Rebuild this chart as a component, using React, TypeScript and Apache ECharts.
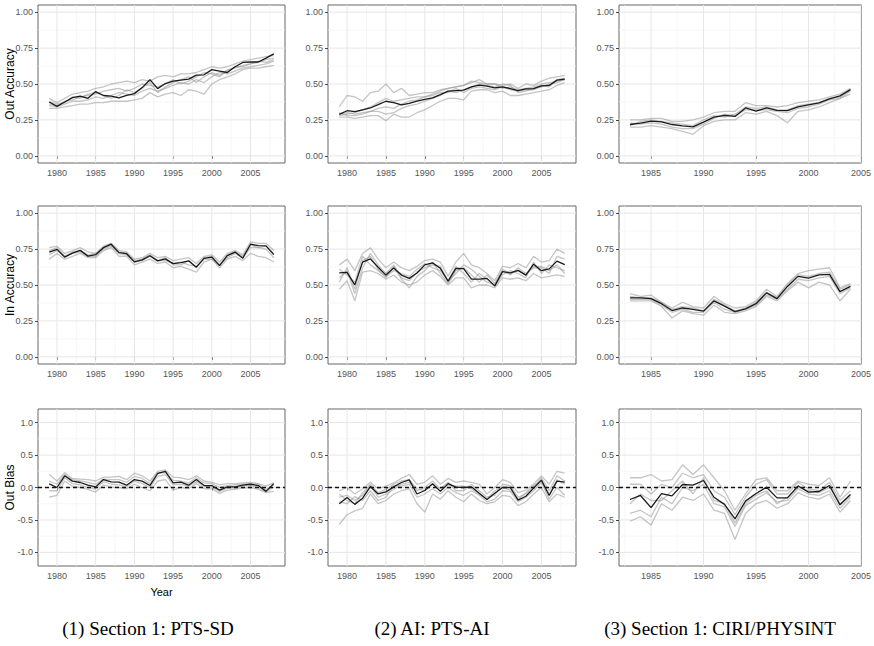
import React, { useEffect, useRef } from "react";
import * as echarts from "echarts";

// ---------- years ----------
const YEARS_A = [1979, 1980, 1981, 1982, 1983, 1984, 1985, 1986, 1987, 1988, 1989, 1990, 1991, 1992, 1993, 1994, 1995, 1996, 1997, 1998, 1999, 2000, 2001, 2002, 2003, 2004, 2005, 2006, 2007, 2008];
const YEARS_C = [1983, 1984, 1985, 1986, 1987, 1988, 1989, 1990, 1991, 1992, 1993, 1994, 1995, 1996, 1997, 1998, 1999, 2000, 2001, 2002, 2003, 2004];

// ---------- tick labels ----------
const X_TICKS_A = [1980, 1985, 1990, 1995, 2000, 2005];
const X_MINOR_A = [1982.5, 1987.5, 1992.5, 1997.5, 2002.5, 2007.5];
const X_TICKS_C = [1985, 1990, 1995, 2000, 2005];
const X_MINOR_C = [1982.5, 1987.5, 1992.5, 1997.5, 2002.5];
const Y_TICKS_ACC = [0, 0.25, 0.5, 0.75, 1];
const Y_MINOR_ACC = [0.125, 0.375, 0.625, 0.875];
const Y_TICKS_BIAS = [-1, -0.5, 0, 0.5, 1];
const Y_MINOR_BIAS = [-0.75, -0.25, 0.25, 0.75];

const ROW_TITLES = ["Out Accuracy", "In Accuracy", "Out Bias"];
const CAPTIONS = ["(1) Section 1: PTS-SD", "(2) AI: PTS-AI", "(3) Section 1: CIRI/PHYSINT"];

// ---------- Out Accuracy, PTS-SD ----------
const oaPtsBlack = [0.375, 0.344, 0.375, 0.405, 0.415, 0.40, 0.447, 0.42, 0.415, 0.403, 0.42, 0.433, 0.475, 0.53, 0.468, 0.503, 0.52, 0.527, 0.534, 0.562, 0.564, 0.60, 0.59, 0.58, 0.62, 0.65, 0.653, 0.653, 0.68, 0.71];
const oaPtsG1 = [0.40, 0.37, 0.40, 0.43, 0.44, 0.45, 0.47, 0.48, 0.50, 0.51, 0.52, 0.51, 0.53, 0.52, 0.55, 0.56, 0.55, 0.57, 0.57, 0.58, 0.60, 0.62, 0.61, 0.62, 0.64, 0.66, 0.67, 0.68, 0.69, 0.70];
const oaPtsG2 = [0.33, 0.33, 0.34, 0.35, 0.36, 0.36, 0.37, 0.37, 0.38, 0.38, 0.38, 0.39, 0.40, 0.44, 0.41, 0.43, 0.44, 0.42, 0.46, 0.45, 0.43, 0.50, 0.53, 0.55, 0.57, 0.60, 0.61, 0.61, 0.62, 0.63];
const oaPtsG3 = [0.36, 0.35, 0.38, 0.39, 0.41, 0.42, 0.43, 0.45, 0.46, 0.47, 0.45, 0.47, 0.50, 0.49, 0.48, 0.50, 0.53, 0.50, 0.52, 0.55, 0.58, 0.57, 0.55, 0.60, 0.61, 0.63, 0.64, 0.66, 0.65, 0.67];
const oaPtsG4 = [0.35, 0.34, 0.36, 0.38, 0.38, 0.39, 0.41, 0.40, 0.42, 0.44, 0.43, 0.42, 0.45, 0.47, 0.45, 0.47, 0.49, 0.51, 0.50, 0.53, 0.51, 0.55, 0.58, 0.57, 0.59, 0.61, 0.62, 0.63, 0.64, 0.66];
const oaPtsG5 = [0.38, 0.36, 0.37, 0.41, 0.40, 0.43, 0.44, 0.42, 0.40, 0.42, 0.46, 0.44, 0.47, 0.51, 0.44, 0.48, 0.51, 0.53, 0.55, 0.51, 0.55, 0.58, 0.56, 0.59, 0.62, 0.62, 0.64, 0.65, 0.67, 0.68];

// ---------- Out Accuracy, AI ----------
const oaAiBlack = [0.288, 0.314, 0.307, 0.32, 0.333, 0.356, 0.38, 0.37, 0.354, 0.365, 0.38, 0.393, 0.403, 0.426, 0.45, 0.454, 0.457, 0.48, 0.492, 0.485, 0.473, 0.48, 0.468, 0.454, 0.466, 0.468, 0.487, 0.49, 0.527, 0.534];
const oaAiG1 = [0.34, 0.42, 0.41, 0.38, 0.44, 0.45, 0.50, 0.44, 0.47, 0.42, 0.43, 0.44, 0.44, 0.46, 0.47, 0.48, 0.49, 0.52, 0.51, 0.50, 0.50, 0.49, 0.50, 0.47, 0.50, 0.49, 0.52, 0.54, 0.55, 0.56];
const oaAiG2 = [0.27, 0.27, 0.26, 0.27, 0.28, 0.28, 0.245, 0.29, 0.27, 0.27, 0.30, 0.32, 0.35, 0.38, 0.40, 0.40, 0.39, 0.45, 0.46, 0.46, 0.44, 0.45, 0.42, 0.42, 0.43, 0.44, 0.45, 0.46, 0.49, 0.51];
const oaAiG3 = [0.29, 0.30, 0.29, 0.30, 0.31, 0.33, 0.34, 0.33, 0.36, 0.38, 0.39, 0.41, 0.43, 0.45, 0.47, 0.48, 0.49, 0.51, 0.53, 0.50, 0.50, 0.47, 0.48, 0.46, 0.47, 0.48, 0.50, 0.51, 0.52, 0.53];
const oaAiG4 = [0.28, 0.29, 0.30, 0.32, 0.34, 0.37, 0.40, 0.38, 0.39, 0.40, 0.41, 0.41, 0.42, 0.44, 0.44, 0.47, 0.44, 0.47, 0.48, 0.47, 0.46, 0.48, 0.46, 0.45, 0.46, 0.46, 0.48, 0.50, 0.51, 0.53];
const oaAiG5 = [0.30, 0.28, 0.28, 0.29, 0.31, 0.31, 0.29, 0.30, 0.33, 0.35, 0.36, 0.38, 0.40, 0.42, 0.45, 0.44, 0.46, 0.48, 0.50, 0.49, 0.48, 0.50, 0.49, 0.44, 0.45, 0.47, 0.49, 0.48, 0.53, 0.54];

// ---------- Out Accuracy, CIRI ----------
const oaCiriBlack = [0.218, 0.227, 0.241, 0.237, 0.218, 0.208, 0.201, 0.234, 0.269, 0.281, 0.274, 0.333, 0.311, 0.333, 0.316, 0.314, 0.34, 0.354, 0.368, 0.396, 0.417, 0.461];
const oaCiriG1 = [0.25, 0.25, 0.26, 0.26, 0.24, 0.24, 0.25, 0.27, 0.30, 0.31, 0.31, 0.37, 0.35, 0.35, 0.34, 0.35, 0.37, 0.38, 0.39, 0.41, 0.43, 0.47];
const oaCiriG2 = [0.20, 0.20, 0.21, 0.20, 0.19, 0.17, 0.15, 0.21, 0.24, 0.25, 0.25, 0.30, 0.29, 0.31, 0.28, 0.23, 0.31, 0.32, 0.34, 0.37, 0.40, 0.43];
const oaCiriG3 = [0.23, 0.22, 0.23, 0.22, 0.20, 0.19, 0.19, 0.22, 0.26, 0.29, 0.28, 0.32, 0.32, 0.32, 0.31, 0.30, 0.33, 0.34, 0.36, 0.39, 0.40, 0.45];
const oaCiriG4 = [0.21, 0.24, 0.25, 0.24, 0.23, 0.22, 0.21, 0.25, 0.28, 0.27, 0.29, 0.34, 0.33, 0.34, 0.32, 0.32, 0.35, 0.36, 0.37, 0.40, 0.41, 0.46];

// ---------- In Accuracy, PTS-SD ----------
const iaPtsBlack = [0.729, 0.748, 0.694, 0.722, 0.741, 0.701, 0.711, 0.76, 0.784, 0.725, 0.718, 0.661, 0.675, 0.704, 0.668, 0.682, 0.649, 0.656, 0.668, 0.624, 0.685, 0.694, 0.635, 0.704, 0.729, 0.687, 0.784, 0.774, 0.772, 0.711];
const iaPtsG1 = [0.76, 0.77, 0.72, 0.74, 0.76, 0.73, 0.72, 0.77, 0.79, 0.74, 0.73, 0.68, 0.69, 0.72, 0.69, 0.70, 0.67, 0.68, 0.69, 0.65, 0.70, 0.71, 0.66, 0.72, 0.74, 0.71, 0.80, 0.79, 0.79, 0.74];
const iaPtsG2 = [0.68, 0.72, 0.68, 0.70, 0.72, 0.69, 0.69, 0.74, 0.76, 0.70, 0.70, 0.64, 0.66, 0.68, 0.65, 0.66, 0.62, 0.63, 0.61, 0.59, 0.66, 0.68, 0.62, 0.68, 0.70, 0.67, 0.72, 0.70, 0.69, 0.66];
const iaPtsG3 = [0.71, 0.74, 0.70, 0.72, 0.73, 0.70, 0.70, 0.75, 0.77, 0.72, 0.71, 0.66, 0.67, 0.70, 0.67, 0.67, 0.65, 0.66, 0.64, 0.63, 0.68, 0.68, 0.64, 0.69, 0.72, 0.69, 0.76, 0.76, 0.75, 0.69];
const iaPtsG4 = [0.74, 0.76, 0.70, 0.73, 0.74, 0.71, 0.72, 0.76, 0.78, 0.73, 0.72, 0.67, 0.68, 0.71, 0.67, 0.69, 0.64, 0.64, 0.67, 0.62, 0.69, 0.70, 0.64, 0.71, 0.73, 0.70, 0.78, 0.76, 0.77, 0.72];

// ---------- In Accuracy, AI ----------
const iaAiBlack = [0.584, 0.588, 0.501, 0.659, 0.682, 0.624, 0.569, 0.619, 0.569, 0.546, 0.584, 0.64, 0.654, 0.616, 0.527, 0.616, 0.614, 0.541, 0.541, 0.546, 0.494, 0.593, 0.584, 0.602, 0.569, 0.645, 0.60, 0.612, 0.666, 0.642];
const iaAiG1 = [0.64, 0.68, 0.60, 0.72, 0.76, 0.68, 0.62, 0.66, 0.62, 0.60, 0.63, 0.67, 0.68, 0.66, 0.56, 0.66, 0.72, 0.64, 0.62, 0.58, 0.53, 0.63, 0.62, 0.65, 0.62, 0.70, 0.66, 0.67, 0.75, 0.72];
const iaAiG2 = [0.47, 0.53, 0.39, 0.59, 0.60, 0.58, 0.54, 0.57, 0.52, 0.50, 0.52, 0.57, 0.60, 0.56, 0.50, 0.55, 0.55, 0.48, 0.50, 0.50, 0.48, 0.55, 0.54, 0.55, 0.53, 0.58, 0.55, 0.56, 0.57, 0.56];
const iaAiG3 = [0.55, 0.60, 0.44, 0.62, 0.72, 0.64, 0.58, 0.64, 0.55, 0.53, 0.59, 0.62, 0.64, 0.63, 0.52, 0.58, 0.64, 0.61, 0.56, 0.52, 0.50, 0.60, 0.57, 0.62, 0.58, 0.62, 0.62, 0.58, 0.70, 0.68];
const iaAiG4 = [0.61, 0.57, 0.52, 0.70, 0.64, 0.60, 0.56, 0.60, 0.58, 0.56, 0.61, 0.65, 0.62, 0.60, 0.53, 0.63, 0.58, 0.52, 0.58, 0.54, 0.49, 0.57, 0.60, 0.58, 0.55, 0.66, 0.58, 0.64, 0.62, 0.60];
const iaAiG5 = [0.52, 0.62, 0.47, 0.67, 0.70, 0.61, 0.55, 0.63, 0.54, 0.48, 0.56, 0.60, 0.66, 0.58, 0.51, 0.60, 0.62, 0.57, 0.52, 0.57, 0.51, 0.61, 0.58, 0.60, 0.57, 0.63, 0.63, 0.60, 0.64, 0.58];

// ---------- In Accuracy, CIRI ----------
const iaCiriBlack = [0.41, 0.41, 0.405, 0.37, 0.322, 0.34, 0.33, 0.318, 0.39, 0.353, 0.315, 0.334, 0.37, 0.445, 0.405, 0.49, 0.56, 0.548, 0.57, 0.574, 0.454, 0.49];
const iaCiriG1 = [0.44, 0.42, 0.43, 0.38, 0.34, 0.38, 0.35, 0.34, 0.42, 0.37, 0.34, 0.35, 0.39, 0.47, 0.42, 0.51, 0.58, 0.60, 0.61, 0.62, 0.48, 0.51];
const iaCiriG2 = [0.39, 0.39, 0.39, 0.35, 0.27, 0.32, 0.30, 0.29, 0.36, 0.31, 0.30, 0.32, 0.35, 0.42, 0.39, 0.46, 0.52, 0.48, 0.52, 0.50, 0.39, 0.47];
const iaCiriG3 = [0.40, 0.40, 0.40, 0.36, 0.31, 0.33, 0.31, 0.31, 0.38, 0.33, 0.31, 0.33, 0.36, 0.43, 0.40, 0.47, 0.54, 0.53, 0.55, 0.56, 0.44, 0.48];
const iaCiriG4 = [0.42, 0.41, 0.41, 0.38, 0.33, 0.35, 0.34, 0.32, 0.40, 0.36, 0.32, 0.34, 0.38, 0.45, 0.41, 0.50, 0.57, 0.56, 0.58, 0.59, 0.47, 0.50];

// ---------- Out Bias, PTS-SD ----------
const obPtsBlack = [0.057, 0.0, 0.18, 0.098, 0.077, 0.036, 0.01, 0.123, 0.087, 0.082, 0.036, 0.123, 0.098, 0.03, 0.216, 0.247, 0.072, 0.082, 0.036, 0.123, 0.03, 0.03, -0.04, 0.01, 0.01, 0.036, 0.05, 0.03, -0.06, 0.06];
const obPtsG1 = [0.20, 0.10, 0.23, 0.14, 0.13, 0.12, 0.10, 0.16, 0.16, 0.17, 0.12, 0.22, 0.18, 0.10, 0.25, 0.27, 0.16, 0.15, 0.12, 0.18, 0.10, 0.08, 0.04, 0.06, 0.06, 0.07, 0.08, 0.06, 0.02, 0.07];
const obPtsG2 = [-0.15, -0.12, 0.10, 0.02, 0.00, -0.03, -0.07, 0.04, 0.01, 0.00, -0.02, 0.05, 0.00, -0.05, 0.10, 0.12, -0.04, 0.00, -0.02, 0.06, -0.02, -0.02, -0.09, -0.04, -0.03, -0.01, 0.00, -0.03, -0.08, -0.06];
const obPtsG3 = [-0.05, -0.05, 0.15, 0.06, 0.04, 0.00, -0.02, 0.09, 0.05, 0.04, 0.01, 0.10, 0.06, 0.00, 0.17, 0.20, 0.04, 0.05, 0.02, 0.09, 0.02, 0.01, -0.06, -0.01, -0.01, 0.02, 0.03, 0.00, -0.07, 0.01];
const obPtsG4 = [0.10, 0.05, 0.20, 0.12, 0.10, 0.08, 0.05, 0.13, 0.12, 0.12, 0.08, 0.17, 0.14, 0.06, 0.22, 0.23, 0.11, 0.10, 0.07, 0.15, 0.07, 0.06, 0.00, 0.03, 0.04, 0.05, 0.06, 0.05, -0.03, 0.04];

// ---------- Out Bias, AI ----------
const obAiBlack = [-0.25, -0.155, -0.26, -0.165, 0.015, -0.10, -0.067, 0.01, 0.077, 0.118, -0.10, -0.046, 0.057, -0.06, 0.06, 0.005, 0.0, 0.01, -0.09, -0.185, -0.09, 0.0, 0.0, -0.195, -0.135, -0.01, 0.113, -0.123, 0.098, 0.082];
const obAiG1 = [-0.57, -0.42, -0.36, -0.32, -0.10, -0.25, -0.20, -0.10, -0.05, -0.02, -0.25, -0.38, -0.10, -0.18, -0.05, -0.15, -0.22, -0.10, -0.20, -0.25, -0.22, -0.12, -0.14, -0.28, -0.22, -0.10, 0.00, -0.22, -0.10, -0.15];
const obAiG2 = [-0.05, 0.00, -0.10, -0.02, 0.08, -0.02, 0.02, 0.07, 0.14, 0.20, 0.05, 0.08, 0.18, 0.05, 0.14, 0.08, 0.10, 0.08, 0.05, -0.10, 0.00, 0.12, 0.08, -0.08, -0.04, 0.05, 0.18, 0.05, 0.25, 0.22];
const obAiG3 = [-0.15, -0.12, -0.20, -0.12, 0.03, -0.15, -0.10, -0.03, 0.05, 0.08, -0.05, 0.00, 0.10, -0.02, 0.08, -0.05, -0.05, 0.05, -0.05, -0.15, -0.12, 0.05, 0.03, -0.15, -0.10, 0.00, 0.15, -0.05, 0.18, 0.10];
const obAiG4 = [-0.22, -0.25, -0.14, -0.20, -0.05, -0.20, -0.15, 0.03, 0.02, 0.05, -0.15, -0.10, -0.02, -0.10, 0.00, -0.08, -0.12, -0.05, -0.12, -0.22, -0.18, -0.05, -0.06, -0.22, -0.15, -0.05, 0.08, -0.18, 0.00, -0.12];
const obAiG5 = [-0.10, -0.20, -0.25, -0.08, 0.05, -0.08, -0.03, 0.05, 0.10, 0.12, -0.02, -0.05, 0.05, -0.05, 0.04, 0.02, 0.02, -0.02, -0.10, -0.18, -0.05, 0.00, -0.04, -0.18, -0.08, 0.03, 0.10, -0.10, 0.12, 0.05];

// ---------- Out Bias, CIRI ----------
const obCiriBlack = [-0.185, -0.123, -0.31, -0.093, -0.129, 0.046, 0.036, 0.108, -0.15, -0.26, -0.483, -0.21, -0.093, 0.005, -0.16, -0.16, 0.026, -0.072, -0.062, 0.03, -0.267, -0.108];
const obCiriG1 = [0.15, 0.15, 0.20, 0.10, 0.12, 0.35, 0.20, 0.35, 0.15, -0.05, -0.35, -0.10, 0.12, 0.15, -0.05, -0.05, 0.10, 0.05, 0.03, 0.15, -0.15, 0.10];
const obCiriG2 = [-0.52, -0.45, -0.58, -0.25, -0.35, -0.15, -0.20, -0.10, -0.35, -0.40, -0.80, -0.40, -0.25, -0.20, -0.32, -0.25, -0.08, -0.15, -0.18, -0.10, -0.38, -0.20];
const obCiriG3 = [-0.40, -0.35, -0.45, -0.15, -0.25, 0.00, -0.05, 0.05, -0.25, -0.30, -0.60, -0.28, -0.18, -0.08, -0.22, -0.20, -0.02, -0.10, -0.12, -0.05, -0.32, -0.15];
const obCiriG4 = [0.05, 0.05, -0.10, 0.05, 0.00, 0.22, 0.15, 0.20, -0.05, -0.15, -0.42, -0.15, 0.05, 0.12, -0.10, -0.10, 0.08, -0.02, -0.05, 0.08, -0.20, -0.05];
const obCiriG5 = [-0.25, -0.10, -0.20, -0.20, -0.05, 0.10, -0.10, 0.15, -0.20, -0.25, -0.55, -0.25, -0.12, -0.05, -0.25, -0.15, 0.00, -0.05, -0.08, 0.00, -0.25, -0.12];

const PANELS = [
  { row: 0, col: 0, years: YEARS_A, black: oaPtsBlack, greys: [oaPtsG1, oaPtsG2, oaPtsG3, oaPtsG4, oaPtsG5] },
  { row: 0, col: 1, years: YEARS_A, black: oaAiBlack, greys: [oaAiG1, oaAiG2, oaAiG3, oaAiG4, oaAiG5] },
  { row: 0, col: 2, years: YEARS_C, black: oaCiriBlack, greys: [oaCiriG1, oaCiriG2, oaCiriG3, oaCiriG4] },
  { row: 1, col: 0, years: YEARS_A, black: iaPtsBlack, greys: [iaPtsG1, iaPtsG2, iaPtsG3, iaPtsG4] },
  { row: 1, col: 1, years: YEARS_A, black: iaAiBlack, greys: [iaAiG1, iaAiG2, iaAiG3, iaAiG4, iaAiG5] },
  { row: 1, col: 2, years: YEARS_C, black: iaCiriBlack, greys: [iaCiriG1, iaCiriG2, iaCiriG3, iaCiriG4] },
  { row: 2, col: 0, years: YEARS_A, black: obPtsBlack, greys: [obPtsG1, obPtsG2, obPtsG3, obPtsG4] },
  { row: 2, col: 1, years: YEARS_A, black: obAiBlack, greys: [obAiG1, obAiG2, obAiG3, obAiG4, obAiG5] },
  { row: 2, col: 2, years: YEARS_C, black: obCiriBlack, greys: [obCiriG1, obCiriG2, obCiriG3, obCiriG4, obCiriG5] },
];

// layout
const COL_LEFT = [38, 328, 619];
const COL_WIDTH = [247, 248, 247];
const ROW_TOP = [5, 206, 409];
const ROW_HEIGHT = [158, 158, 157];
const CAPTION_X = [148, 432, 720];

const AXIS_FONT = "'Liberation Sans Narrow', 'Liberation Sans', Arial, sans-serif";

function buildOption() {
  const grid: any[] = [];
  const xAxis: any[] = [];
  const yAxis: any[] = [];
  const series: any[] = [];

  PANELS.forEach((p, i) => {
    const isC = p.years === YEARS_C;
    const xMin = isC ? 1981.95 : 1977.55;
    const xMax = isC ? 2005.05 : 2009.45;
    const isBias = p.row === 2;
    const yMin = isBias ? -1.21 : -0.05;
    const yMax = isBias ? 1.21 : 1.05;
    const xTicks = isC ? X_TICKS_C : X_TICKS_A;
    const xMinor = isC ? X_MINOR_C : X_MINOR_A;
    const yTicks = isBias ? Y_TICKS_BIAS : Y_TICKS_ACC;
    const yMinor = isBias ? Y_MINOR_BIAS : Y_MINOR_ACC;

    grid.push({
      left: COL_LEFT[p.col],
      top: ROW_TOP[p.row],
      width: COL_WIDTH[p.col],
      height: ROW_HEIGHT[p.row],
      show: true,
      borderColor: "#666",
      borderWidth: 1,
      backgroundColor: "#fff",
      containLabel: false,
    });
    xAxis.push({
      type: "value",
      gridIndex: i,
      min: xMin,
      max: xMax,
      axisLine: { show: false },
      splitLine: { show: false },
      axisTick: { show: true, length: 3, customValues: xTicks, lineStyle: { color: "#444", width: 1 } },
      axisLabel: {
        customValues: xTicks,
        formatter: (v: number) => String(v),
        fontSize: 9,
        color: "#555",
        fontFamily: AXIS_FONT,
        margin: 5,
      },
    });
    yAxis.push({
      type: "value",
      gridIndex: i,
      min: yMin,
      max: yMax,
      axisLine: { show: false },
      splitLine: { show: false },
      axisTick: { show: true, length: 3, customValues: yTicks, lineStyle: { color: "#444", width: 1 } },
      axisLabel: {
        customValues: yTicks,
        formatter: (v: number) => (isBias ? v.toFixed(1) : v.toFixed(2)),
        fontSize: 9,
        color: "#555",
        fontFamily: AXIS_FONT,
        margin: 5,
      },
    });

    const gl = (data: number[][], color: string, width: number, extra: any = {}) => ({
      type: "line",
      xAxisIndex: i,
      yAxisIndex: i,
      data,
      symbol: "none",
      silent: true,
      animation: false,
      lineStyle: { color, width, ...extra },
      z: 1,
    });

    yMinor.forEach((v) => series.push(gl([[xMin, v], [xMax, v]], "#f2f2f2", 0.7)));
    xMinor.forEach((v) => series.push(gl([[v, yMin], [v, yMax]], "#f2f2f2", 0.7)));
    yTicks.forEach((v) => series.push(gl([[xMin, v], [xMax, v]], "#e6e6e6", 1)));
    xTicks.forEach((v) => series.push(gl([[v, yMin], [v, yMax]], "#e6e6e6", 1)));

    p.greys.forEach((g) => {
      series.push({
        type: "line",
        xAxisIndex: i,
        yAxisIndex: i,
        data: p.years.map((y, k) => [y, g[k]]),
        symbol: "none",
        silent: true,
        lineStyle: { color: "rgba(150,150,150,0.55)", width: 1.3 },
        z: 2,
      });
    });

    if (isBias) {
      series.push({ ...gl([[xMin, 0], [xMax, 0]], "#111", 1.3, { type: [4, 3] }), z: 3 });
    }

    series.push({
      type: "line",
      xAxisIndex: i,
      yAxisIndex: i,
      data: p.years.map((y, k) => [y, p.black[k]]),
      symbol: "none",
      silent: true,
      lineStyle: { color: "#1a1a1a", width: 1.3 },
      z: 4,
    });
  });

  const graphic: any[] = [];
  ROW_TITLES.forEach((t, r) => {
    graphic.push({
      type: "text",
      x: 10,
      y: ROW_TOP[r] + ROW_HEIGHT[r] / 2,
      rotation: Math.PI / 2,
      style: {
        text: t,
        fill: "#000",
        fontSize: 12,
        fontFamily: "'Liberation Sans', Arial, sans-serif",
        textAlign: "center",
        textVerticalAlign: "middle",
      },
    });
  });
  graphic.push({
    type: "text",
    x: COL_LEFT[0] + COL_WIDTH[0] / 2,
    y: 592,
    style: {
      text: "Year",
      fill: "#000",
      fontSize: 11,
      fontFamily: "'Liberation Sans', Arial, sans-serif",
      textAlign: "center",
      textVerticalAlign: "middle",
    },
  });
  CAPTIONS.forEach((c, k) => {
    graphic.push({
      type: "text",
      x: CAPTION_X[k],
      y: 628,
      style: {
        text: c,
        fill: "#000",
        fontSize: 19,
        fontFamily: "'Liberation Serif', 'Times New Roman', serif",
        textAlign: "center",
        textVerticalAlign: "middle",
      },
    });
  });

  return {
    animation: false,
    backgroundColor: "#fff",
    grid,
    xAxis,
    yAxis,
    series,
    graphic,
  };
}

export default function App() {
  const ref = useRef<HTMLDivElement>(null);
  useEffect(() => {
    if (!ref.current) return;
    const chart = echarts.init(ref.current, undefined, { renderer: "svg" });
    chart.setOption(buildOption() as any);
    return () => chart.dispose();
  }, []);
  return (
    <div
      ref={ref}
      style={{ position: "absolute", left: 0, top: 0, width: 874, height: 646, background: "#fff" }}
    />
  );
}
